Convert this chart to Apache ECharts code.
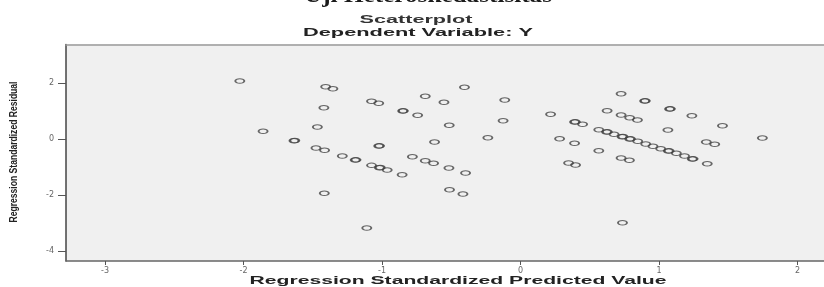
<!DOCTYPE html>
<html>
<head>
<meta charset="utf-8">
<script src="https://cdn.jsdelivr.net/npm/echarts@6/dist/echarts.min.js"></script>
<style>
  html, body { margin: 0; padding: 0; background: #fff; }
  #main { width: 824px; height: 287px; }
</style>
</head>
<body>
<div id="main"></div>
<script>
// nilai yang dibaca dari gambar (predicted vs residual, standardized)
var predictedValues = [
  -2.027, -1.407, -1.355, -0.405, -1.076, -1.024, -0.688, -0.553, -1.420, -0.851,
  -0.743, -0.515, -1.859, -1.467, -0.236, -1.636, -0.621, -1.024, -1.477, -1.415,
  -1.287, -1.194, -0.781, -0.688, -0.628, -1.076, -1.019, -0.963, -0.855, -0.517,
  -0.397, -1.417, -0.513, -0.416, -1.110, -0.114, -0.126, 0.217, 0.390, 0.448,
  0.282, 0.390, 0.347, 0.397, 0.565, 0.726, 0.896, 1.076, 0.625, 0.726,
  0.788, 0.844, 1.237, 1.458, 1.064, 1.746, 1.341, 1.402, 1.348, 0.726,
  0.786, 0.736, 0.565, 0.621, 0.675, 0.733, 0.788, 0.846, 0.904, 0.956,
  1.012, 1.067, 1.125, 1.184, 1.240,
  // titik yang bertumpuk
  -1.630, -1.018, -0.846, -1.188, -1.013, 0.396, 0.901, 1.082, 0.627, 0.739,
  0.794, 1.073, 1.246
];
var residualValues = [
  2.068, 1.865, 1.793, 1.843, 1.344, 1.273, 1.522, 1.308, 1.116, 0.998,
  0.845, 0.488, 0.275, 0.428, 0.046, -0.061, -0.107, -0.250, -0.321, -0.403,
  -0.606, -0.749, -0.631, -0.774, -0.866, -0.938, -1.023, -1.105, -1.273, -1.034,
  -1.212, -1.936, -1.807, -1.961, -3.173, 1.390, 0.652, 0.881, 0.606, 0.524,
  0.011, -0.153, -0.856, -0.927, -0.417, 1.615, 1.355, 1.070, 1.009, 0.856,
  0.759, 0.677, 0.831, 0.474, 0.321, 0.036, -0.107, -0.189, -0.881, -0.677,
  -0.759, -2.984, 0.332, 0.250, 0.168, 0.082, 0.000, -0.082, -0.178, -0.260,
  -0.346, -0.428, -0.510, -0.606, -0.713,
  -0.055, -0.244, 1.004, -0.743, -1.017, 0.612, 1.361, 1.076, 0.256, 0.088,
  0.006, -0.422, -0.707
];
var xTicks = [-3, -2, -1, 0, 1, 2];
var yTicks = [-4, -2, 0, 2];

var points = predictedValues.map(function (v, i) { return [v, residualValues[i]]; });

// lebar teks, untuk menarik judul seperti di gambar asli
var measureCtx = document.createElement('canvas').getContext('2d');
function fitScale(text, font, target) {
  measureCtx.font = font;
  return target / measureCtx.measureText(text).width;
}

var fontTop = 'bold 20px "Liberation Serif"';
var fontTitle = 'bold 10.5px "Liberation Sans"';
var fontAxis = 'bold 10px "Liberation Sans"';

var myChart = echarts.init(document.getElementById('main'));

var option = {
  animation: false,
  backgroundColor: '#fff',
  grid: {
    left: 66, right: 0, top: 44.5, bottom: 26,
    show: true, backgroundColor: '#f0f0f0', borderWidth: 0
  },
  xAxis: [{
    type: 'value',
    min: -3.282, max: 2.191,
    splitLine: { show: false },
    axisLine: { show: true, onZero: false, lineStyle: { color: '#666', width: 1.5 } },
    axisTick: { show: true, customValues: xTicks, length: 4, lineStyle: { color: '#555' } },
    axisLabel: { customValues: xTicks, fontSize: 8, fontFamily: 'DejaVu Sans', color: '#666', margin: 6 }
  }, {
    type: 'value', position: 'top',
    min: -3.282, max: 2.191,
    splitLine: { show: false },
    axisLine: { show: true, onZero: false, lineStyle: { color: '#999', width: 1.5 } },
    axisTick: { show: false },
    axisLabel: { show: false }
  }],
  yAxis: {
    type: 'value',
    min: -4.349, max: 3.369,
    splitLine: { show: false },
    axisLine: { show: true, onZero: false, lineStyle: { color: '#444', width: 1.5 } },
    axisTick: { show: true, customValues: yTicks, length: 8, lineStyle: { color: '#555' } },
    axisLabel: { customValues: yTicks, fontSize: 8, fontFamily: 'DejaVu Sans', color: '#666', margin: 12 }
  },
  graphic: [
    {
      type: 'text', x: 428, y: 7,
      scaleX: fitScale('Uji Heteroskedastisitas', fontTop, 248),
      style: { text: 'Uji Heteroskedastisitas', font: fontTop, fill: '#1a1a1a',
               textAlign: 'center', textVerticalAlign: 'bottom', verticalAlign: 'bottom' }
    },
    {
      type: 'text', x: 416, y: 20,
      scaleX: fitScale('Scatterplot', fontTitle, 113),
      style: { text: 'Scatterplot', font: fontTitle, fill: '#333',
               textAlign: 'center', textVerticalAlign: 'middle', verticalAlign: 'middle' }
    },
    {
      type: 'text', x: 418, y: 33.5,
      scaleX: fitScale('Dependent Variable: Y', fontTitle, 230),
      style: { text: 'Dependent Variable: Y', font: fontTitle, fill: '#222',
               textAlign: 'center', textVerticalAlign: 'middle', verticalAlign: 'middle' }
    },
    {
      type: 'text', x: 458, y: 281.5,
      scaleX: fitScale('Regression Standardized Predicted Value', fontAxis, 417),
      style: { text: 'Regression Standardized Predicted Value', font: fontAxis, fill: '#222',
               textAlign: 'center', textVerticalAlign: 'middle', verticalAlign: 'middle' }
    },
    {
      type: 'text', x: 14, y: 152, rotation: Math.PI / 2,
      scaleX: fitScale('Regression Standardized Residual', fontAxis, 141),
      style: { text: 'Regression Standardized Residual', font: fontAxis, fill: '#222',
               textAlign: 'center', textVerticalAlign: 'middle', verticalAlign: 'middle' }
    }
  ],
  series: [{
    type: 'scatter',
    xAxisIndex: 0,
    data: points,
    symbol: 'circle',
    symbolSize: [9, 4.5],
    itemStyle: { color: 'rgba(0,0,0,0)', borderColor: '#444', borderWidth: 1.4 },
    silent: true
  }]
};

myChart.setOption(option);
</script>
</body>
</html>
